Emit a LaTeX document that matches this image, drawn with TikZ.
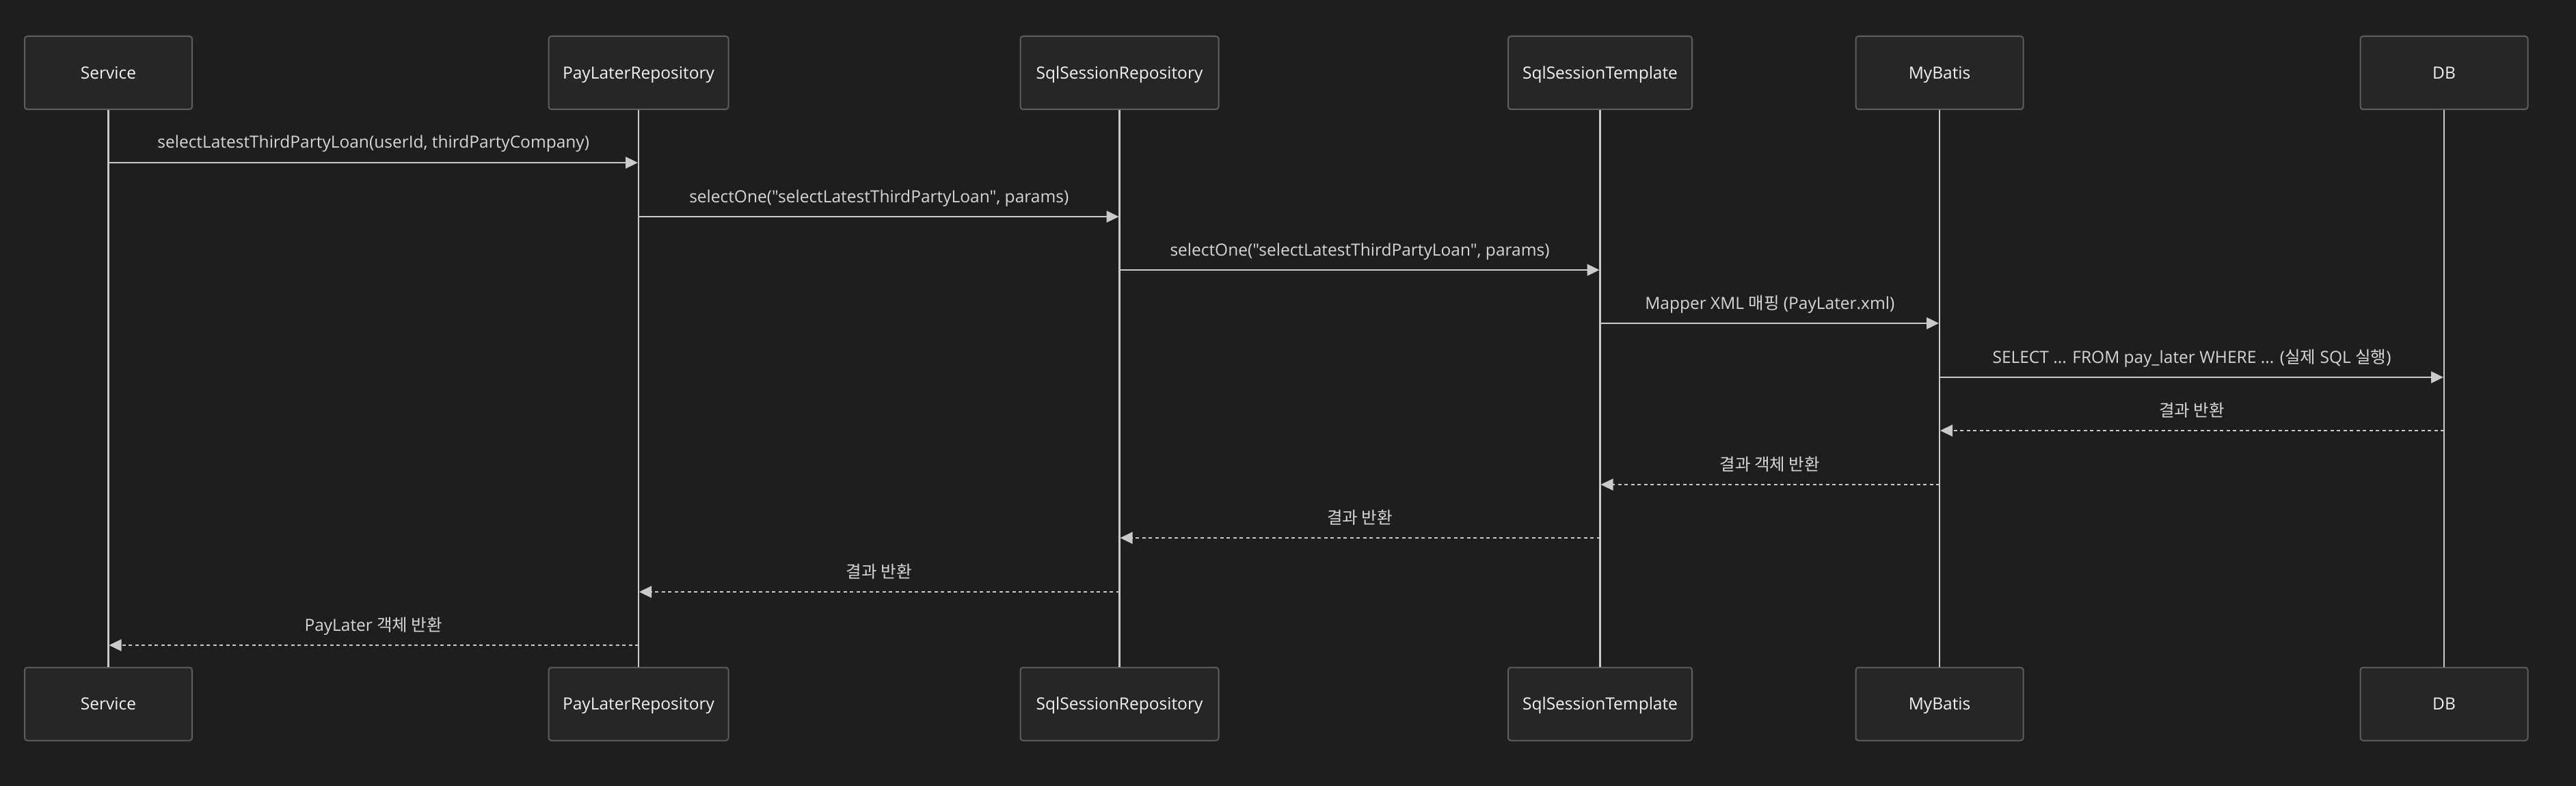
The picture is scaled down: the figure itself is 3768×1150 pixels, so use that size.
\documentclass[tikz,border=0pt]{standalone}
\usepackage{fontspec}
\setmainfont{Open Sans}[Ligatures=TeXOff]
\newfontfamily\krfont{Noto Sans CJK KR}
\newcommand\kr[1]{{\krfont\fontsize{24.5}{28}\selectfont #1}}
\usetikzlibrary{arrows.meta}
\definecolor{bgc}{HTML}{1E1E1E}
\definecolor{boxfill}{HTML}{262626}
\definecolor{boxline}{HTML}{5E5E5E}
\definecolor{linec}{HTML}{CACACA}
\definecolor{msgtext}{HTML}{D6D6D6}
\definecolor{actortext}{HTML}{F2F2F2}
\tikzset{
  actor/.style={draw=boxline, fill=boxfill, rounded corners=4pt, line width=2pt,
    minimum height=107pt, inner sep=0pt, text=actortext,
    font=\fontsize{24.5}{28}\selectfont, text height=17.5pt, text depth=0pt},
  life/.style={draw=linec, line width=2.6pt},
  msg/.style={draw=linec, line width=2.4pt, -{Triangle[length=18pt,width=17pt]}, shorten >=1pt},
  ret/.style={msg, dash pattern=on 5pt off 4.5pt},
  lbl/.style={anchor=base, yshift=21pt, text=msgtext, font=\fontsize{24.5}{28}\selectfont, inner sep=0pt},
}
\begin{document}
\begin{tikzpicture}[x=1pt, y=-1pt]
\fill[bgc] (0,0) rectangle (3768,1150);
\useasboundingbox (0,0) rectangle (3768,1150);
% top actors
\node[actor, minimum width=245pt] (srvT) at (158.5,106.5) {Service};
\node[actor, minimum width=263pt] (plrT) at (934,106.5) {PayLaterRepository};
\node[actor, minimum width=290pt] (ssrT) at (1637.5,106.5) {SqlSessionRepository};
\node[actor, minimum width=269pt] (sstT) at (2340.5,106.5) {SqlSessionTemplate};
\node[actor, minimum width=245pt] (mbT) at (2837,106.5) {MyBatis};
\node[actor, minimum width=245pt] (dbT) at (3575,106.5) {DB};
% bottom actors
\node[actor, minimum width=245pt] (srvB) at (158.5,1030) {Service};
\node[actor, minimum width=263pt] (plrB) at (934,1030) {PayLaterRepository};
\node[actor, minimum width=290pt] (ssrB) at (1637.5,1030) {SqlSessionRepository};
\node[actor, minimum width=269pt] (sstB) at (2340.5,1030) {SqlSessionTemplate};
\node[actor, minimum width=245pt] (mbB) at (2837,1030) {MyBatis};
\node[actor, minimum width=245pt] (dbB) at (3575,1030) {DB};
% lifelines
\foreach \a in {srv,plr,ssr,sst,mb,db}{
  \draw[life] (\a T.south) -- (\a B.north);
}
% message rows
\coordinate (y1) at (0,238);
\coordinate (y2) at (0,317);
\coordinate (y3) at (0,395);
\coordinate (y4) at (0,473);
\coordinate (y5) at (0,552);
\coordinate (y6) at (0,630);
\coordinate (y7) at (0,709);
\coordinate (y8) at (0,787);
\coordinate (y9) at (0,866);
\coordinate (y10) at (0,944);
\draw[msg] (srvT |- y1) -- (plrT |- y1) node[lbl, midway] {selectLatestThirdPartyLoan(userId, thirdPartyCompany)};
\draw[msg] (plrT |- y2) -- (ssrT |- y2) node[lbl, midway] {selectOne("selectLatestThirdPartyLoan", params)};
\draw[msg] (ssrT |- y3) -- (sstT |- y3) node[lbl, midway] {selectOne("selectLatestThirdPartyLoan", params)};
\draw[msg] (sstT |- y4) -- (mbT |- y4) node[lbl, midway] {Mapper XML \kr{매핑} (PayLater.xml)};
\draw[msg] (mbT |- y5) -- (dbT |- y5) node[lbl, midway] {SELECT ... FROM pay\_later WHERE ... (\kr{실제} SQL \kr{실행})};
\draw[ret] (dbT |- y6) -- (mbT |- y6) node[lbl, midway] {\kr{결과 반환}};
\draw[ret] (mbT |- y7) -- (sstT |- y7) node[lbl, midway] {\kr{결과 객체 반환}};
\draw[ret] (sstT |- y8) -- (ssrT |- y8) node[lbl, midway] {\kr{결과 반환}};
\draw[ret] (ssrT |- y9) -- (plrT |- y9) node[lbl, midway] {\kr{결과 반환}};
\draw[ret] (plrT |- y10) -- (srvT |- y10) node[lbl, midway] {PayLater \kr{객체 반환}};
\end{tikzpicture}
\end{document}
